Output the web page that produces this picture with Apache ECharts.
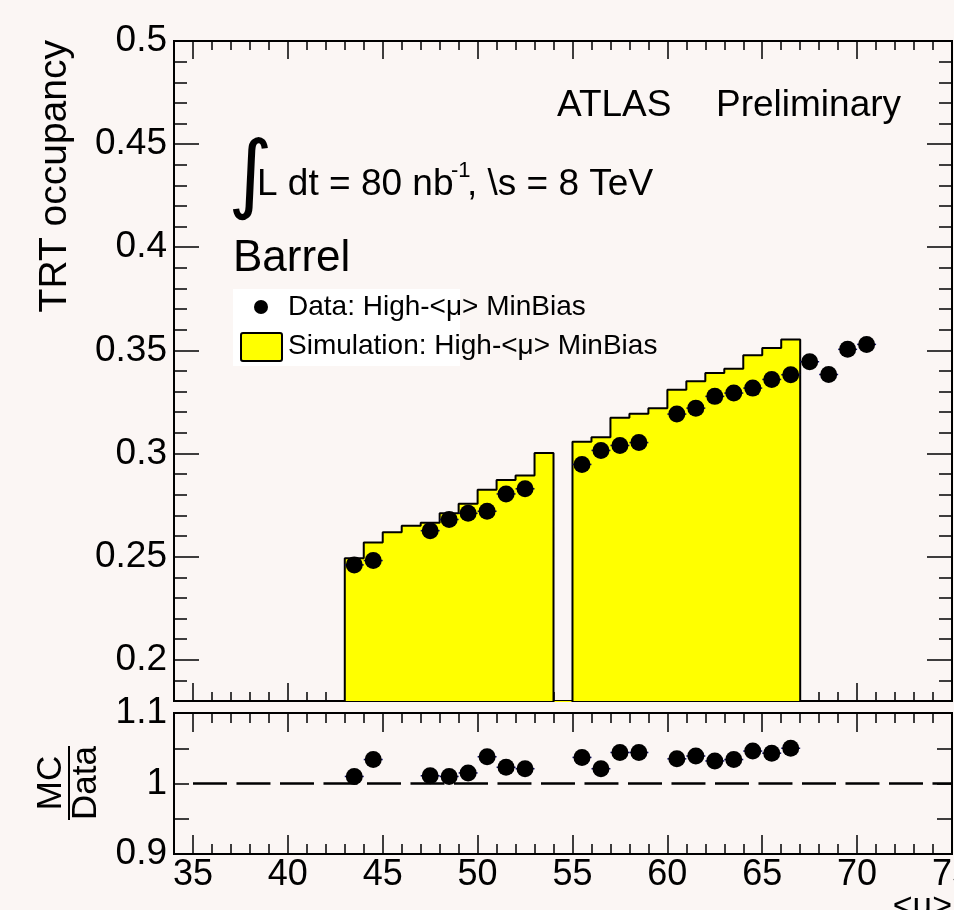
<!DOCTYPE html>
<html>
<head>
<meta charset="utf-8">
<script src="https://cdn.jsdelivr.net/npm/echarts@6/dist/echarts.min.js"></script>
<style>
  html, body { margin: 0; padding: 0; background: #fbf6f4; }
  #main { width: 954px; height: 910px; }
</style>
</head>
<body>
<div id="main"></div>
<script>
// simulation histogram: low edge of each 1-unit <mu> bin and its content (0 = empty bin)
const mcBinLow = [43, 44, 45, 46, 47, 48, 49, 50, 51, 52, 53, 54,
                  55, 56, 57, 58, 59, 60, 61, 62, 63, 64, 65, 66]
const mcValues = [0.2492, 0.2569, 0.2618, 0.2650, 0.2664, 0.2710, 0.2756, 0.2824, 0.2872, 0.2893, 0.3003, 0,
                  0.3057, 0.3079, 0.3173, 0.3193, 0.3220, 0.3309, 0.3350, 0.3390, 0.3411, 0.3476, 0.3511, 0.3553]
const binWidth = 1

// data points (bin centres)
const dataMu = [43.5, 44.5, 47.5, 48.5, 49.5, 50.5, 51.5, 52.5, 55.5, 56.5, 57.5, 58.5,
                60.5, 61.5, 62.5, 63.5, 64.5, 65.5, 66.5, 67.5, 68.5, 69.5, 70.5]
const dataValues = [0.2460, 0.2481, 0.2626, 0.2680, 0.2710, 0.2720, 0.2804, 0.2829, 0.2947, 0.3015, 0.3039, 0.3053,
                    0.3191, 0.3220, 0.3277, 0.3293, 0.3317, 0.3359, 0.3382, 0.3445, 0.3383, 0.3505, 0.3529]

// MC / Data ratio
const ratioMu = [43.5, 44.5, 47.5, 48.5, 49.5, 50.5, 51.5, 52.5, 55.5, 56.5, 57.5, 58.5,
                 60.5, 61.5, 62.5, 63.5, 64.5, 65.5, 66.5]
const ratioValues = [1.010, 1.034, 1.011, 1.010, 1.015, 1.038, 1.023, 1.021, 1.037, 1.021, 1.044, 1.044,
                     1.035, 1.039, 1.032, 1.034, 1.046, 1.043, 1.050]

// axis ticks / labels
const xMajorTicks = [35, 40, 45, 50, 55, 60, 65, 70, 75]
const yMajorTicks = [0.2, 0.25, 0.3, 0.35, 0.4, 0.45, 0.5]
const ratioLabels = [0.9, 1, 1.1]
const ratioLine = [[35, 1], [75, 1]]

const FONT = 'Liberation Sans, Arial, Helvetica, sans-serif'

// histogram outline as a step line (starts and ends on the floor)
const histLine = [[mcBinLow[0], 0]]
mcBinLow.forEach((lo, i) => histLine.push([lo, mcValues[i]]))
const lastBin = mcBinLow.length - 1
histLine.push([mcBinLow[lastBin] + binWidth, mcValues[lastBin]])
histLine.push([mcBinLow[lastBin] + binWidth, 0])

const dataPts = dataMu.map((m, i) => [m, dataValues[i]])
const ratioPts = ratioMu.map((m, i) => [m, ratioValues[i]])

const tickLine = { color: '#000', width: 1.5 }

function xAx(grid, pos, opts) {
  return Object.assign({
    type: 'value', gridIndex: grid, position: pos, min: 34, max: 75,
    axisLine: { show: false }, splitLine: { show: false },
    axisLabel: { show: false }
  }, opts)
}
function yAx(grid, pos, min, max, opts) {
  return Object.assign({
    type: 'value', gridIndex: grid, position: pos, min: min, max: max,
    axisLine: { show: false }, splitLine: { show: false },
    axisLabel: { show: false }
  }, opts)
}
const majorTick = (len, vals) => ({ show: true, inside: true, length: len, lineStyle: tickLine, customValues: vals })
const minorTick = (len) => ({ show: true, inside: true, length: len, lineStyle: tickLine })

// x error bars (half bin width each side)
function xErr(params, api) {
  const x = api.value(0), y = api.value(1)
  const p1 = api.coord([x - binWidth / 2, y])
  const p2 = api.coord([x + binWidth / 2, y])
  return {
    type: 'line',
    shape: { x1: p1[0], y1: p1[1], x2: p2[0], y2: p2[1] },
    style: { stroke: '#101070', lineWidth: 1.5 }
  }
}

let chart = echarts.init(document.getElementById('main'))

let option = {
  animation: false,
  backgroundColor: '#fbf6f4',
  grid: [
    { left: 174, top: 41, width: 778, height: 660, outerBoundsMode: 'none', containLabel: false,
      show: true, borderColor: '#000', borderWidth: 2, backgroundColor: 'transparent' },
    { left: 174, top: 713, width: 778, height: 141, outerBoundsMode: 'none', containLabel: false,
      show: true, borderColor: '#000', borderWidth: 2, backgroundColor: 'transparent' }
  ],
  xAxis: [
    xAx(0, 'bottom', { axisTick: majorTick(18, xMajorTicks) }),
    xAx(0, 'bottom', { interval: 1, axisTick: minorTick(9) }),
    xAx(0, 'top', { axisTick: majorTick(18, xMajorTicks) }),
    xAx(0, 'top', { interval: 1, axisTick: minorTick(9) }),
    xAx(1, 'bottom', {
      axisTick: majorTick(19, xMajorTicks),
      axisLabel: { show: true, customValues: xMajorTicks, fontSize: 36, fontFamily: FONT, color: '#000', margin: 3 }
    }),
    xAx(1, 'bottom', { interval: 1, axisTick: minorTick(10) }),
    xAx(1, 'top', { axisTick: majorTick(19, xMajorTicks) }),
    xAx(1, 'top', { interval: 1, axisTick: minorTick(10) })
  ],
  yAxis: [
    yAx(0, 'left', 0.18, 0.5, {
      axisTick: majorTick(25, yMajorTicks),
      axisLabel: { show: true, customValues: yMajorTicks, fontSize: 37, fontFamily: FONT, color: '#000', margin: 7 }
    }),
    yAx(0, 'left', 0.18, 0.5, { interval: 0.01, axisTick: minorTick(13) }),
    yAx(0, 'right', 0.18, 0.5, { axisTick: majorTick(25, yMajorTicks) }),
    yAx(0, 'right', 0.18, 0.5, { interval: 0.01, axisTick: minorTick(13) }),
    yAx(1, 'left', 0.9, 1.1, {
      interval: 0.05, axisTick: minorTick(15),
      axisLabel: { show: true, customValues: ratioLabels, fontSize: 37, fontFamily: FONT, color: '#000', margin: 7 }
    }),
    yAx(1, 'right', 0.9, 1.1, { interval: 0.05, axisTick: minorTick(15) })
  ],
  series: [
    {
      name: 'Simulation: High-<μ> MinBias',
      type: 'line', xAxisIndex: 0, yAxisIndex: 0,
      step: 'end', showSymbol: false, symbol: 'none', clip: true,
      lineStyle: { color: '#000', width: 2 },
      areaStyle: { color: '#ffff00', opacity: 1, origin: 'start' },
      data: histLine, z: 2
    },
    {
      type: 'custom', xAxisIndex: 0, yAxisIndex: 0,
      renderItem: xErr, data: dataPts, z: 3
    },
    {
      name: 'Data: High-<μ> MinBias',
      type: 'scatter', xAxisIndex: 0, yAxisIndex: 0,
      symbol: 'circle', symbolSize: 17,
      itemStyle: { color: '#000', opacity: 1 },
      data: dataPts, z: 4
    },
    {
      type: 'line', xAxisIndex: 4, yAxisIndex: 4,
      symbol: 'none',
      lineStyle: { color: '#000', width: 2.5, type: [34, 9.5] },
      data: ratioLine, z: 2
    },
    {
      type: 'custom', xAxisIndex: 4, yAxisIndex: 4,
      renderItem: xErr, data: ratioPts, z: 3
    },
    {
      name: 'MC/Data',
      type: 'scatter', xAxisIndex: 4, yAxisIndex: 4,
      symbol: 'circle', symbolSize: 17,
      itemStyle: { color: '#000', opacity: 1 },
      data: ratioPts, z: 4
    }
  ],
  graphic: [
    // y-axis title, right-aligned to the top of the frame
    {
      type: 'text', x: 55, y: 40, rotation: Math.PI / 2,
      style: { text: 'TRT occupancy', font: '39px ' + FONT, fill: '#000', align: 'right', verticalAlign: 'middle' }
    },
    // ratio title as a fraction
    {
      type: 'group', x: 69, y: 783, rotation: Math.PI / 2,
      children: [
        { type: 'line', shape: { x1: -37, y1: 0, x2: 37, y2: 0 }, style: { stroke: '#000', lineWidth: 2 } },
        { type: 'text', x: 0, y: -18, style: { text: 'MC', font: '35px ' + FONT, fill: '#000', align: 'center', verticalAlign: 'middle' } },
        { type: 'text', x: 0, y: 17, style: { text: 'Data', font: '35px ' + FONT, fill: '#000', align: 'center', verticalAlign: 'middle' } }
      ]
    },
    // x-axis title (cut by the canvas edge)
    {
      type: 'text', x: 952, y: 924,
      style: { text: '<μ>', font: '34px ' + FONT, fill: '#000', align: 'right', verticalAlign: 'bottom' }
    },
    { type: 'text', x: 557, y: 106, style: { text: 'ATLAS', font: '37px ' + FONT, fill: '#000', verticalAlign: 'middle' } },
    { type: 'text', x: 716, y: 106, style: { text: 'Preliminary', font: '37px ' + FONT, fill: '#000', verticalAlign: 'middle' } },
    // luminosity line
    { type: 'text', x: 228, y: 180, style: { text: '∫', font: '86px DejaVu Sans', fill: '#000', verticalAlign: 'middle' } },
    { type: 'text', x: 257, y: 185, style: { text: 'L dt = 80 nb', font: '37px ' + FONT, fill: '#000', verticalAlign: 'middle' } },
    { type: 'text', x: 451, y: 171, style: { text: '-1', font: '22px ' + FONT, fill: '#000', verticalAlign: 'middle' } },
    { type: 'text', x: 467, y: 185, style: { text: ', \\s = 8 TeV', font: '37px ' + FONT, fill: '#000', verticalAlign: 'middle' } },
    { type: 'text', x: 233, y: 259, style: { text: 'Barrel', font: '44px ' + FONT, fill: '#000', verticalAlign: 'middle' } },
    // legend
    { type: 'rect', shape: { x: 233, y: 289, width: 227, height: 77 }, style: { fill: '#ffffff' } },
    { type: 'circle', shape: { cx: 261, cy: 307, r: 7 }, style: { fill: '#000' } },
    { type: 'rect', shape: { x: 241, y: 333, width: 41, height: 28, r: 2 }, style: { fill: '#ffff00', stroke: '#000', lineWidth: 2 } },
    { type: 'text', x: 288, y: 307, style: { text: 'Data: High-<μ> MinBias', font: '28px ' + FONT, fill: '#000', verticalAlign: 'middle' } },
    { type: 'text', x: 288, y: 346, style: { text: 'Simulation: High-<μ> MinBias', font: '28px ' + FONT, fill: '#000', verticalAlign: 'middle' } }
  ]
}

chart.setOption(option)
</script>
</body>
</html>
